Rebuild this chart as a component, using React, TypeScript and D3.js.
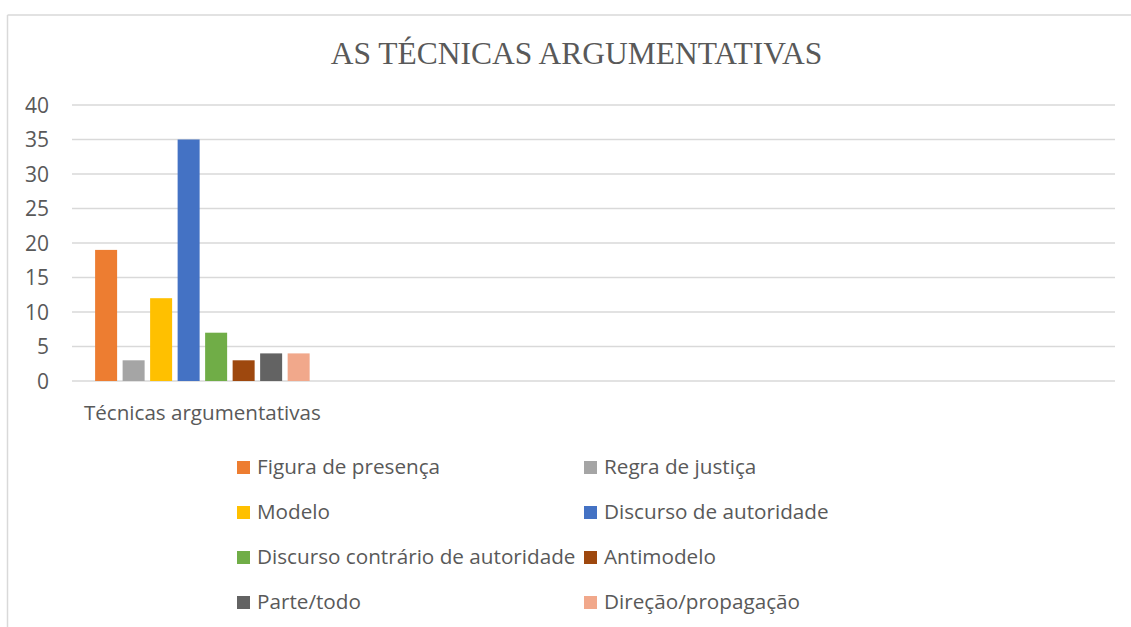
import * as d3 from 'd3';

const categories = ['Técnicas argumentativas', '', '', ''];
const seriesNames = [
  'Figura de presença',
  'Regra de justiça',
  'Modelo',
  'Discurso de autoridade',
  'Discurso contrário de autoridade',
  'Antimodelo',
  'Parte/todo',
  'Direção/propagação',
];
const seriesValues = [19, 3, 12, 35, 7, 3, 4, 4];
const seriesColors = ['#ED7D31', '#A5A5A5', '#FFC000', '#4472C4', '#70AD47', '#9E480E', '#636363', '#F1A88B'];
const yTicks = [0, 5, 10, 15, 20, 25, 30, 35, 40];

const width = 1131;
const height = 627;
const plot = { left: 72, right: 1115, top: 105, bottom: 381 };
const textColor = '#595959';
const gridColor = '#D9D9D9';
const font = "'Open Sans', sans-serif";

function App() {
  const x0 = d3
    .scaleBand<number>()
    .domain(categories.map((_, i) => i))
    .range([plot.left, plot.right]);

  const x1 = d3
    .scaleBand<number>()
    .domain(seriesNames.map((_, i) => i))
    .range([0, x0.bandwidth()])
    .paddingInner(0.2)
    .paddingOuter(0.84);

  const y = d3.scaleLinear().domain([0, 40]).range([plot.bottom, plot.top]);

  const legendCols = [237, 584];
  const legendRow0 = 474;
  const legendStep = 45;

  return (
    <svg width={width} height={height} style={{ position: 'absolute', left: 0, top: 0 }}>
      <rect x={0} y={0} width={width} height={height} fill="#fff" />
      <line x1={7.5} y1={15} x2={7.5} y2={height} stroke={gridColor} strokeWidth={1.5} />
      <line x1={7.5} y1={15} x2={width} y2={15} stroke={gridColor} strokeWidth={1.5} />

      <text x={576.5} y={64} textAnchor="middle" fill={textColor} fontFamily="'Liberation Serif', 'Times New Roman', serif" fontSize={31.5}>
        AS TÉCNICAS ARGUMENTATIVAS
      </text>

      {yTicks.map((t) => (
        <g key={t}>
          <line x1={plot.left} x2={plot.right} y1={y(t)} y2={y(t)} stroke={gridColor} strokeWidth={1.5} />
          <text x={49} y={y(t) + 7.5} textAnchor="end" fill={textColor} fontFamily={font} fontSize={21}>
            {t}
          </text>
        </g>
      ))}

      {seriesValues.map((v, i) => (
        <rect
          key={i}
          x={(x0(0) ?? 0) + (x1(i) ?? 0)}
          y={y(v)}
          width={x1.bandwidth()}
          height={y(0) - y(v)}
          fill={seriesColors[i]}
        />
      ))}

      {categories.map((c, i) => (
        <text
          key={i}
          x={(x0(i) ?? 0) + x0.bandwidth() / 2}
          y={420}
          textAnchor="middle"
          fill={textColor}
          fontFamily={font}
          fontSize={20.6}
        >
          {c}
        </text>
      ))}

      {seriesNames.map((name, i) => {
        const lx = legendCols[i % 2];
        const ly = legendRow0 + Math.floor(i / 2) * legendStep;
        return (
          <g key={name}>
            <rect x={lx} y={ly - 13} width={13} height={13} fill={seriesColors[i]} />
            <text x={lx + 20} y={ly} fill={textColor} fontFamily={font} fontSize={20.7}>
              {name}
            </text>
          </g>
        );
      })}
    </svg>
  );
}

export default App;
